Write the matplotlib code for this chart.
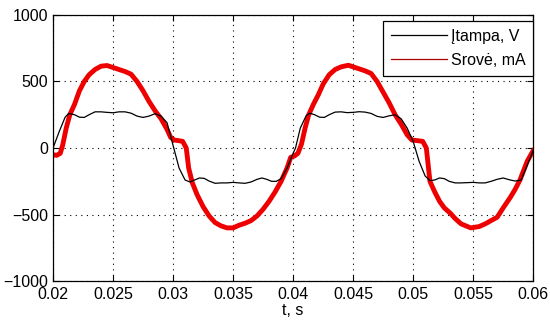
import matplotlib
matplotlib.use('Agg')
import matplotlib.pyplot as plt
from matplotlib.lines import Line2D

plt.rcParams['font.family'] = ['Liberation Sans', 'DejaVu Sans']
plt.rcParams['font.size'] = 11.5

# voltage (black)
t_v = [0.0200, 0.0205, 0.0210, 0.0213, 0.0218, 0.0222, 0.0226, 0.0230, 0.0235, 0.0240,
       0.0245, 0.0250, 0.0255, 0.0260, 0.0265, 0.0270, 0.0275, 0.0280, 0.0285, 0.0290,
       0.0295, 0.0300, 0.0305, 0.0310, 0.0314, 0.0318, 0.0322, 0.0326, 0.0330, 0.0335,
       0.0340, 0.0345, 0.0350, 0.0355, 0.0360, 0.0365, 0.0370, 0.0374, 0.0378, 0.0382,
       0.0386, 0.0390, 0.0395, 0.0400,
       0.0402, 0.0406, 0.0411, 0.0414, 0.0418, 0.0422, 0.0426, 0.0430, 0.0435, 0.0440,
       0.0445, 0.0450, 0.0455, 0.0460, 0.0465, 0.0470, 0.0475, 0.0480, 0.0485, 0.0490,
       0.0495, 0.0500, 0.0505, 0.0510, 0.0514, 0.0518, 0.0522, 0.0526, 0.0530, 0.0535,
       0.0540, 0.0545, 0.0550, 0.0555, 0.0560, 0.0565, 0.0570, 0.0575, 0.0580, 0.0585,
       0.0590, 0.0595, 0.0600]
v = [0, 120, 230, 260, 250, 232, 230, 250, 272, 272,
     268, 265, 272, 272, 262, 240, 230, 240, 258, 240,
     190, 20, -150, -240, -255, -240, -225, -228, -248, -265,
     -262, -262, -258, -262, -265, -255, -235, -225, -235, -250,
     -250, -230, -150, -40,
     0, 150, 245, 262, 250, 232, 230, 250, 270, 272,
     266, 268, 273, 270, 260, 238, 230, 242, 250, 220,
     150, 50, -100, -210, -245, -240, -225, -230, -250, -262,
     -262, -260, -258, -262, -262, -250, -235, -225, -238, -248,
     -240, -130, -20]

# current (red)
t_i = [0.0200, 0.0203, 0.0206, 0.0208, 0.0211, 0.0214, 0.0218, 0.0222, 0.0226, 0.0230,
       0.0235, 0.0240, 0.0245, 0.0250, 0.0255, 0.0260, 0.0265, 0.0270, 0.0275, 0.0280,
       0.0285, 0.0290, 0.0295, 0.0298, 0.0301, 0.0305, 0.0308, 0.0311, 0.0313, 0.0316,
       0.0320, 0.0325, 0.0330, 0.0335, 0.0340, 0.0345, 0.0350, 0.0355, 0.0360, 0.0365,
       0.0370, 0.0375, 0.0380, 0.0385, 0.0390, 0.0395, 0.0398,
       0.0401, 0.0404, 0.0407, 0.0410, 0.0413, 0.0417, 0.0421, 0.0425, 0.0430, 0.0435,
       0.0440, 0.0446, 0.0450, 0.0455, 0.0460, 0.0465, 0.0470, 0.0475, 0.0480, 0.0485,
       0.0490, 0.0495, 0.0499, 0.0504, 0.0508, 0.0511, 0.0514, 0.0518, 0.0522, 0.0526,
       0.0531, 0.0535, 0.0540, 0.0548, 0.0555, 0.0560, 0.0565, 0.0570, 0.0575, 0.0581,
       0.0585, 0.0589, 0.0595, 0.0600]
cur = [-50, -55, -40, 20, 150, 250, 330, 430, 500, 550,
       590, 615, 620, 605, 590, 575, 555, 500, 430, 350,
       280, 220, 140, 80, 60, 55, 50, 0, -150, -260,
       -350, -440, -510, -560, -585, -600, -600, -580, -565, -545,
       -510, -460, -400, -330, -250, -150, -70,
       -60, -40, 30, 150, 250, 330, 400, 480, 550, 590,
       610, 622, 610, 595, 580, 560, 500, 420, 340, 250,
       180, 100, 60, 55, 50, 0, -250, -330, -400, -450,
       -490, -530, -570, -600, -590, -570, -545, -520, -450, -370,
       -310, -240, -100, -20]

fig = plt.figure(figsize=(5.5, 3.25), dpi=100)
ax = fig.add_axes([0.0964, 0.135, 0.873, 0.819])

ax.plot(t_v, v, color='black', lw=0.9, zorder=3)
ax.plot(t_i, cur, color='#ee0000', lw=3.5, zorder=2)

ax.set_xlim(0.02, 0.06)
ax.set_ylim(-1000, 1000)
ax.set_xticks([0.02, 0.025, 0.03, 0.035, 0.04, 0.045, 0.05, 0.055, 0.06])
ax.set_xticklabels(['0.02', '0.025', '0.03', '0.035', '0.04', '0.045', '0.05', '0.055', '0.06'])
ax.set_yticks([-1000, -500, 0, 500, 1000])
ax.grid(True, color='black', linestyle=(0, (1, 4)), lw=0.8)
ax.tick_params(direction='in', top=True, right=True, length=4, labelsize=11.5)
ax.tick_params(axis='x', pad=4)
ax.tick_params(axis='y', pad=3.5)
for s in ax.spines.values():
    s.set_linewidth(0.9)
ax.set_xlabel('t, s', fontsize=11.5, labelpad=1)

handles = [Line2D([], [], color='black', lw=0.9),
           Line2D([], [], color='#aa0000', lw=0.9)]
leg = ax.legend(handles, ['Įtampa, V', 'Srovė, mA'], loc='upper right',
                bbox_to_anchor=(1.0, 0.977), fancybox=False, framealpha=1,
                edgecolor='black', fontsize=11.5, handlelength=3.5,
                handletextpad=0.25, borderpad=0.5, labelspacing=0.55,
                borderaxespad=0)
leg.get_frame().set_linewidth(0.9)

plt.savefig('out.png', dpi=100)
